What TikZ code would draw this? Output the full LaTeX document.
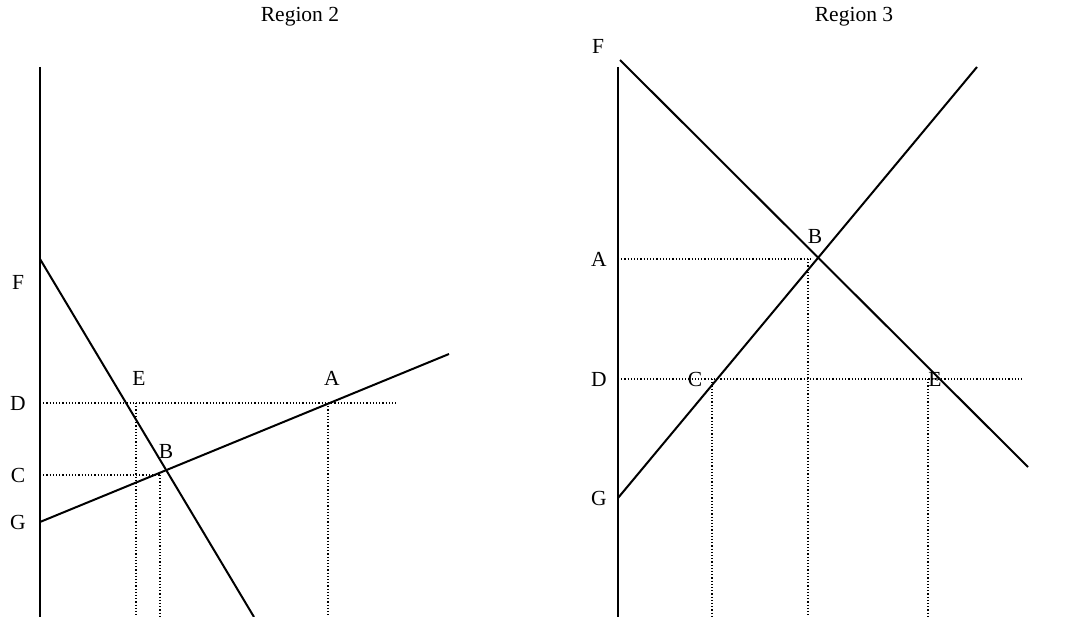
\documentclass[tikz,border=0pt]{standalone}
\usepackage{fontspec}
\setmainfont{Liberation Serif}
\begin{document}
\begin{tikzpicture}[x=1pt,y=-1pt,
  lbl/.style={font=\fontsize{21.5}{25}\selectfont, inner sep=0pt},
  solidln/.style={line width=2pt, black},
  dotln/.style={line width=1.3pt, dash pattern=on 1.2pt off 2pt, black}]
\useasboundingbox (0,0) rectangle (1088,617);
% ---------- Region 2 ----------
\node[lbl] (t2) at (300,17) {Region 2};
\coordinate (ax2t) at (40,67);
\coordinate (ax2b) at (40,617);
\draw[solidln] (ax2t) -- (ax2b);
\coordinate (F2s) at (40,259);
\coordinate (F2e) at (254,617);
\coordinate (G2s) at (40,522);
\coordinate (G2e) at (449,354);
\draw[solidln] (F2s) -- (F2e);
\draw[solidln] (G2s) -- (G2e);
\coordinate (D2a) at (40,403);
\coordinate (D2b) at (397,403);
\coordinate (C2a) at (40,475);
\coordinate (C2b) at (160,475);
\draw[dotln] (D2a) -- (D2b);
\draw[dotln] (C2a) -- (C2b);
\coordinate (v1t) at (136,403); \coordinate (v1b) at (136,617);
\coordinate (v2t) at (160,475); \coordinate (v2b) at (160,617);
\coordinate (v3t) at (328,403); \coordinate (v3b) at (328,617);
\draw[dotln] (v1t) -- (v1b);
\draw[dotln] (v2t) -- (v2b);
\draw[dotln] (v3t) -- (v3b);
\node[lbl] (F2) at (18,282) {F};
\node[lbl] (D2) at (18,403) {D};
\node[lbl] (C2) at (18,475) {C};
\node[lbl] (G2) at (18,522) {G};
\node[lbl] (E2) at (139,378) {E};
\node[lbl] (A2) at (332,378) {A};
\node[lbl] (B2) at (166,451) {B};
% ---------- Region 3 ----------
\node[lbl] (t3) at (854,17) {Region 3};
\coordinate (ax3t) at (618,67);
\coordinate (ax3b) at (618,617);
\draw[solidln] (ax3t) -- (ax3b);
\coordinate (F3s) at (620,60);
\coordinate (F3e) at (1028,467);
\coordinate (G3s) at (618,498);
\coordinate (G3e) at (977,67);
\draw[solidln] (F3s) -- (F3e);
\draw[solidln] (G3s) -- (G3e);
\coordinate (A3a) at (618,259);
\coordinate (A3b) at (812,259);
\coordinate (D3a) at (618,379);
\coordinate (D3b) at (1022,379);
\draw[dotln] (A3a) -- (A3b);
\draw[dotln] (D3a) -- (D3b);
\coordinate (w1t) at (712,379); \coordinate (w1b) at (712,617);
\coordinate (w2t) at (808,259); \coordinate (w2b) at (808,617);
\coordinate (w3t) at (928,379); \coordinate (w3b) at (928,617);
\draw[dotln] (w1t) -- (w1b);
\draw[dotln] (w2t) -- (w2b);
\draw[dotln] (w3t) -- (w3b);
\node[lbl] (F3) at (598,46) {F};
\node[lbl] (A3) at (599,259) {A};
\node[lbl] (D3) at (599,379) {D};
\node[lbl] (G3) at (599,498) {G};
\node[lbl] (B3) at (815,236) {B};
\node[lbl] (C3) at (695,379) {C};
\node[lbl] (E3) at (935,379) {E};
\end{tikzpicture}
\end{document}
